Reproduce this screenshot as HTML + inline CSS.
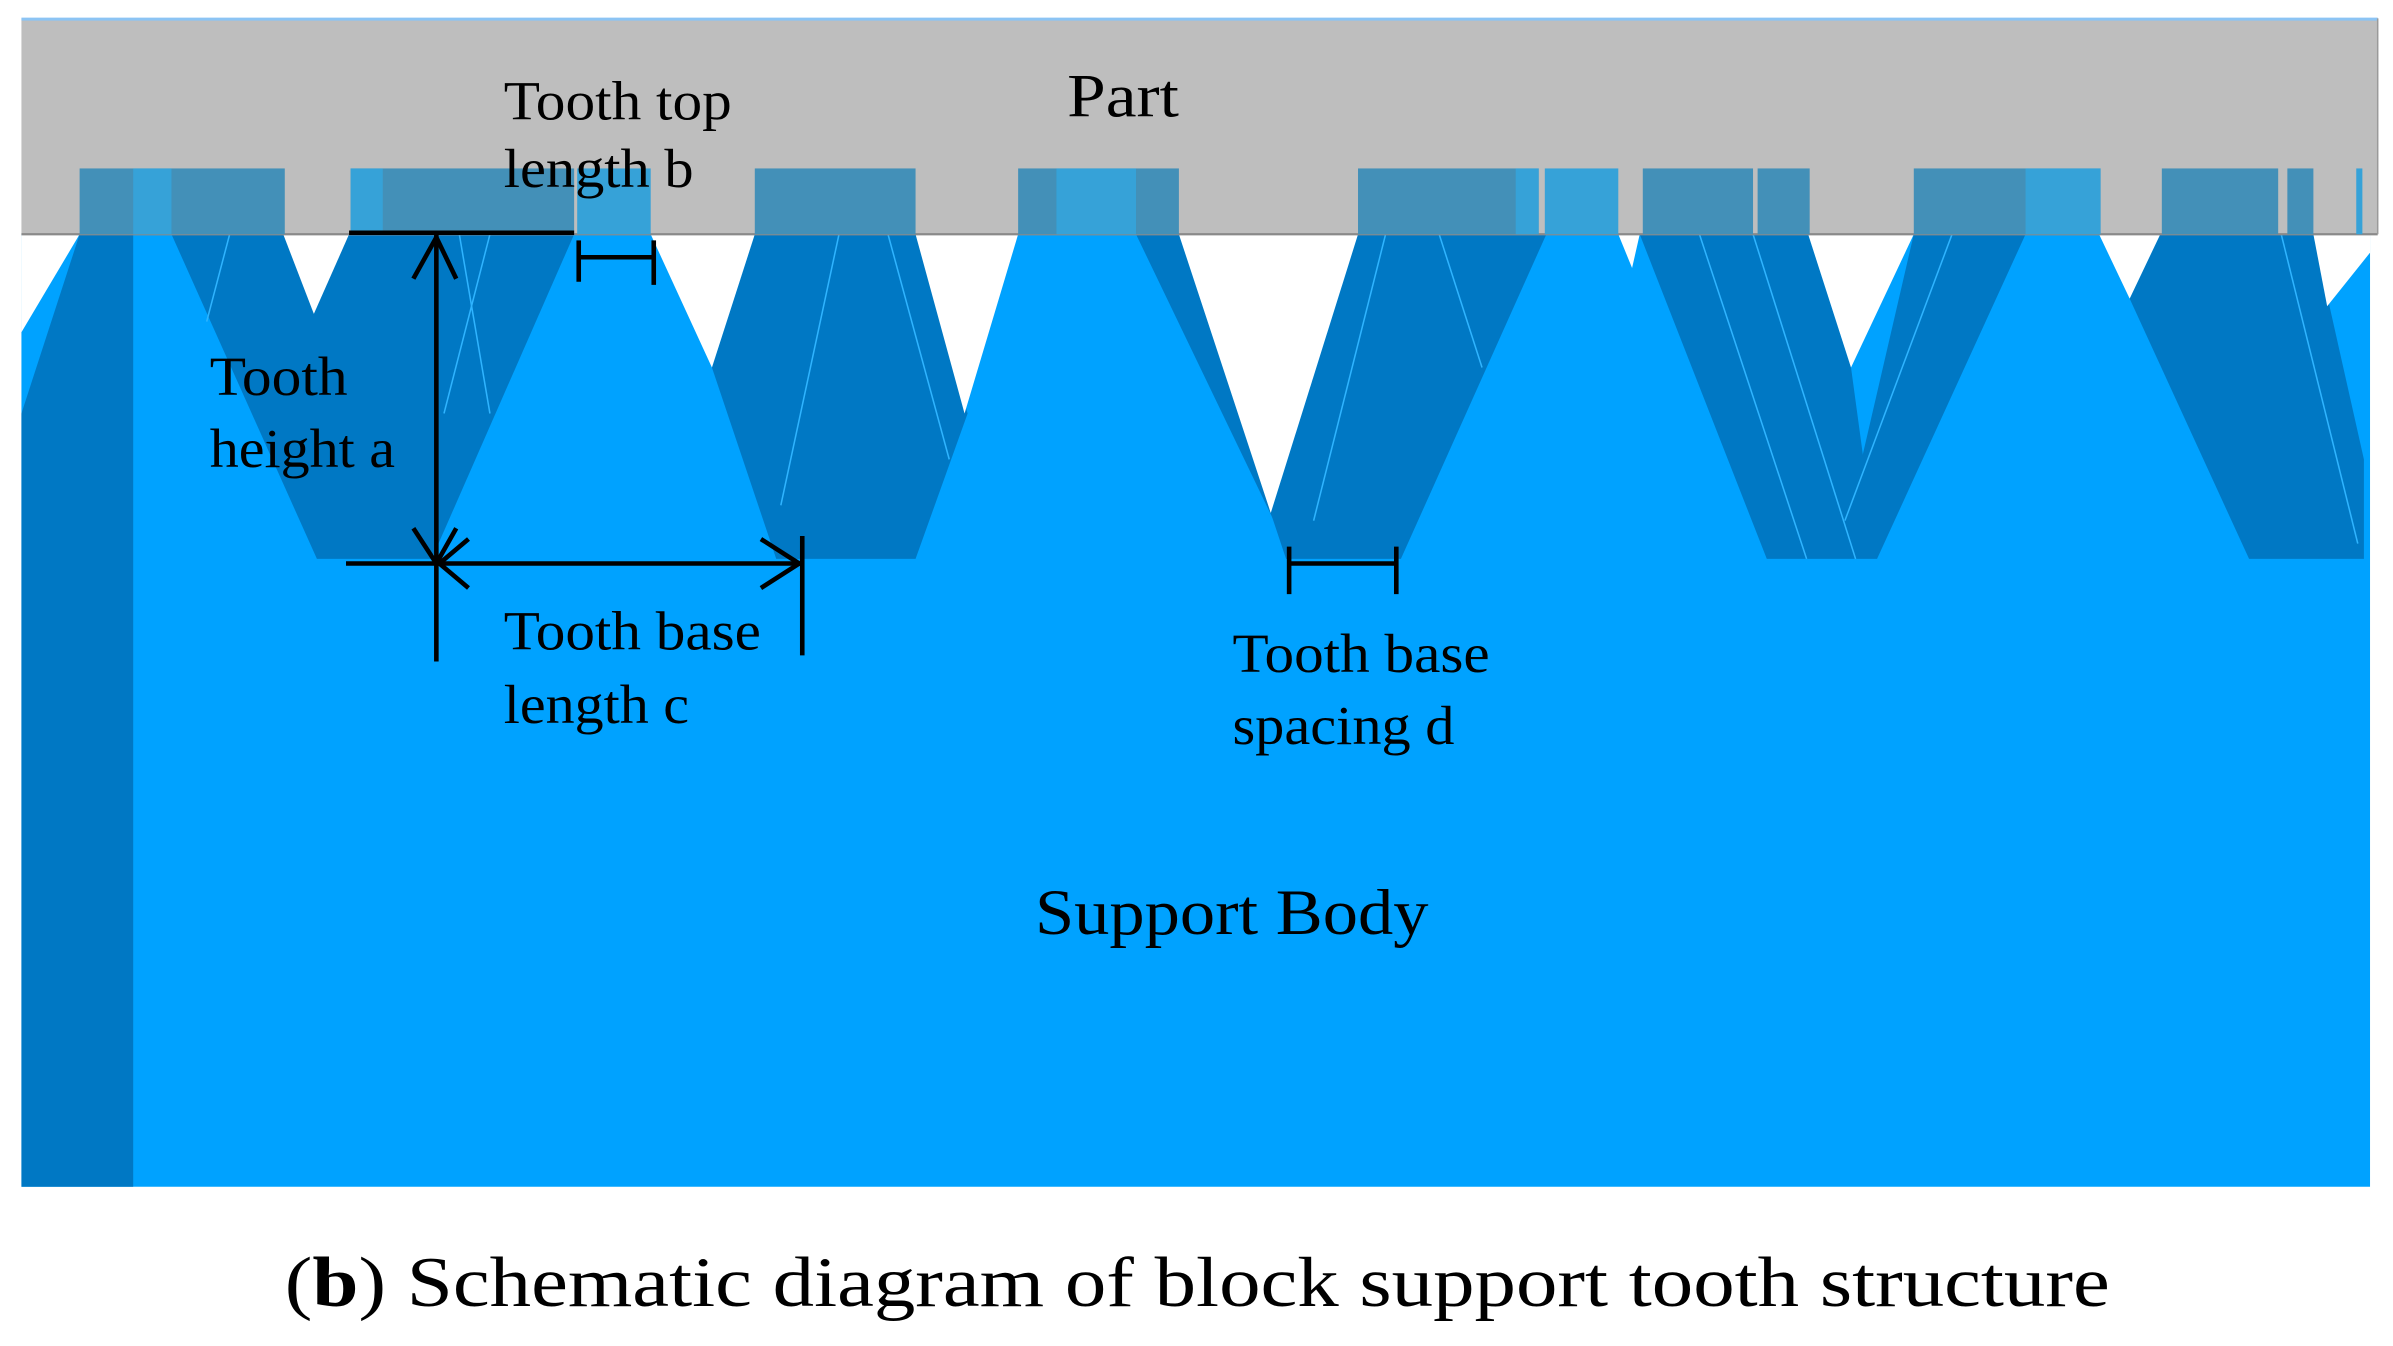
<!DOCTYPE html>
<html><head><meta charset="utf-8"><style>
html,body{margin:0;padding:0;background:#fff;}
svg{display:block;}
text{font-family:"Liberation Serif",serif;fill:#000;}
</style></head><body>
<svg width="2393" height="1346" viewBox="0 0 1563 879" preserveAspectRatio="none" xmlns="http://www.w3.org/2000/svg">
<rect x="0" y="0" width="1563" height="879" fill="#fff"/>
<!-- support body -->
<rect x="14" y="153" width="1534" height="622" fill="#00a2ff"/>
<!-- dark teeth -->
<g fill="#0078c4">
<polygon points="14,270 52,153 87,153 87,775 14,775"/>
<polygon points="112,153 375,153 282,365 207,365"/>
<polygon points="465,240 493,153 598,153 632,270 598,365 507,365"/>
<polygon points="742,153 770,153 832,340"/>
<polygon points="887,153 1010,153 915,365 840,365 830,335"/>
<polygon points="1071,153 1181,153 1209,240 1226,365 1154,365"/>
<polygon points="1250,153 1323,153 1226,365 1209,330"/>
<polygon points="1411,153 1511,153 1544,300 1544,365 1469,365 1391,195"/>
</g>
<!-- thin light lines in dark -->
<g stroke="#2fb4ff" stroke-width="1" fill="none">
<line x1="150" y1="153" x2="135" y2="210"/>
<line x1="300" y1="153" x2="320" y2="270"/>
<line x1="320" y1="153" x2="290" y2="270"/>
<line x1="548" y1="153" x2="510" y2="330"/>
<line x1="580" y1="153" x2="620" y2="300"/>
<line x1="905" y1="153" x2="858" y2="340"/>
<line x1="940" y1="153" x2="968" y2="240"/>
<line x1="1110" y1="153" x2="1180" y2="365"/>
<line x1="1145" y1="153" x2="1212" y2="365"/>
<line x1="1275" y1="153" x2="1205" y2="340"/>
<line x1="1490" y1="153" x2="1540" y2="355"/>
</g>
<!-- white gaps -->
<g fill="#fff">
<polygon points="14,153 52,153 14,217"/>
<polygon points="185,153 228,153 205,205"/>
<polygon points="425,153 493,153 465,240"/>
<polygon points="598,153 665,153 630,270"/>
<polygon points="770,153 887,153 830,335"/>
<polygon points="1057,153 1071,153 1066,175"/>
<polygon points="1181,153 1250,153 1209,240"/>
<polygon points="1371,153 1411,153 1391,195"/>
<polygon points="1511,153 1548,153 1548,165 1520,200"/>
</g>
<!-- part -->
<rect x="14" y="12" width="1539" height="141" fill="#bebebe"/>
<line x1="14" y1="12.5" x2="1553" y2="12.5" stroke="#8cc4f4" stroke-width="2"/>
<line x1="14" y1="153" x2="1553" y2="153" stroke="#8a8a8a" stroke-width="1.5"/>
<line x1="1553" y1="12" x2="1553" y2="153" stroke="#9a9a9a" stroke-width="1"/>
<!-- overlays -->
<g fill="#4390b8">
<rect x="52" y="110" width="134" height="43"/>
<rect x="229" y="110" width="146" height="43"/>
<rect x="493" y="110" width="105" height="43"/>
<rect x="665" y="110" width="105" height="43"/>
<rect x="887" y="110" width="118" height="43"/>
<rect x="1073" y="110" width="72" height="43"/>
<rect x="1148" y="110" width="34" height="43"/>
<rect x="1250" y="110" width="122" height="43"/>
<rect x="1412" y="110" width="76" height="43"/>
<rect x="1494" y="110" width="17" height="43"/>
</g>
<g fill="#36a2d8">
<rect x="87" y="110" width="25" height="43"/>
<rect x="229" y="110" width="21" height="43"/>
<rect x="377" y="110" width="48" height="43"/>
<rect x="690" y="110" width="52" height="43"/>
<rect x="990" y="110" width="15" height="43"/>
<rect x="1009" y="110" width="48" height="43"/>
<rect x="1323" y="110" width="49" height="43"/>
<rect x="1539" y="110" width="4" height="43"/>
</g>
<!-- annotations -->
<g stroke="#000" stroke-width="3" fill="none" stroke-linecap="butt">
<line x1="228" y1="152" x2="375" y2="152"/>
<line x1="285" y1="153" x2="285" y2="432"/>
<polyline points="270,182 285,155 298,182"/>
<polyline points="270,345 285,368 298,345"/>
<line x1="226" y1="368" x2="524" y2="368"/>
<polyline points="306,352 287,368 306,384"/>
<polyline points="497,352 522,368 497,384"/>
<line x1="524" y1="350" x2="524" y2="428"/>
<line x1="378" y1="157" x2="378" y2="184"/>
<line x1="427" y1="157" x2="427" y2="186"/>
<line x1="378" y1="168" x2="427" y2="168"/>
<line x1="842" y1="357" x2="842" y2="388"/>
<line x1="912" y1="357" x2="912" y2="388"/>
<line x1="842" y1="368" x2="912" y2="368"/>
</g>
<text x="329" y="78" font-size="36" textLength="149" lengthAdjust="spacingAndGlyphs">Tooth top</text>
<text x="329" y="122" font-size="36" textLength="124" lengthAdjust="spacingAndGlyphs">length b</text>
<text x="697" y="76" font-size="40" textLength="73" lengthAdjust="spacingAndGlyphs">Part</text>
<text x="137" y="258" font-size="36" textLength="90" lengthAdjust="spacingAndGlyphs">Tooth</text>
<text x="137" y="305" font-size="36" textLength="121" lengthAdjust="spacingAndGlyphs">height a</text>
<text x="329" y="424" font-size="36" textLength="168" lengthAdjust="spacingAndGlyphs">Tooth base</text>
<text x="329" y="472" font-size="36" textLength="121" lengthAdjust="spacingAndGlyphs">length c</text>
<text x="805" y="439" font-size="36" textLength="168" lengthAdjust="spacingAndGlyphs">Tooth base</text>
<text x="805" y="486" font-size="36" textLength="145" lengthAdjust="spacingAndGlyphs">spacing d</text>
<text x="676" y="610" font-size="42" textLength="257" lengthAdjust="spacingAndGlyphs">Support Body</text>
<text x="186" y="853" font-size="46" textLength="1192" lengthAdjust="spacingAndGlyphs">(<tspan font-weight="bold">b</tspan>) Schematic diagram of block support tooth structure</text>
</svg>
</body></html>
